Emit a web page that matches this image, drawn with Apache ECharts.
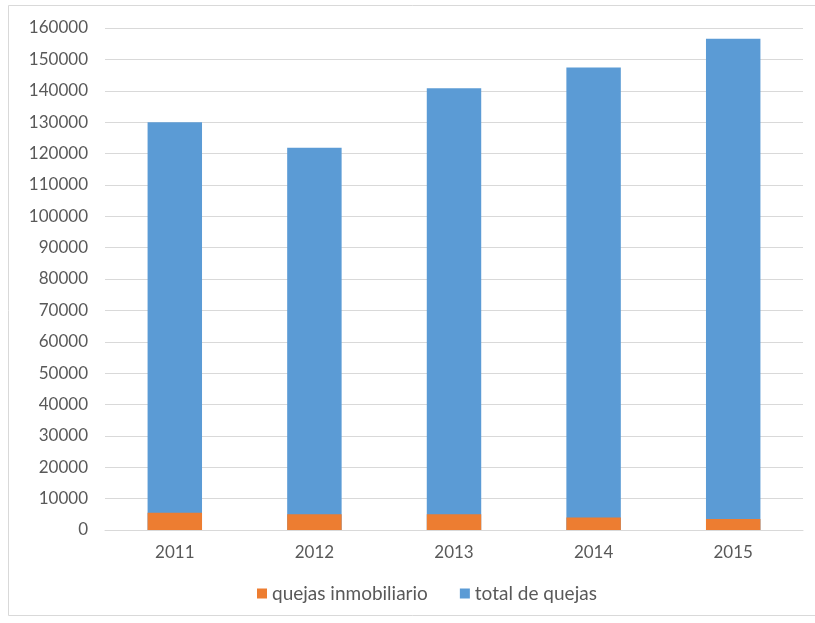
<!DOCTYPE html>
<html><head><meta charset="utf-8">
<script src="https://cdn.jsdelivr.net/npm/echarts@6/dist/echarts.min.js"></script>
<style>html,body{margin:0;padding:0;background:#fff}#c{width:815px;height:623px}</style>
</head><body><div id="c"></div>
<script>
const years = ['2011','2012','2013','2014','2015'];
const quejasInmobiliario = [5500, 5000, 5000, 4000, 3500];
const totalQuejas = [130000, 121800, 140800, 147400, 156600];
const yTicks = {min: 0, max: 160000, interval: 10000};

const chart = echarts.init(document.getElementById('c'));
chart.setOption({
  animation: false,
  backgroundColor: '#fff',
  textStyle: {fontFamily: 'Lato'},
  graphic: [{type: 'rect', shape: {x: 8.5, y: 5.5, width: 830, height: 610}, style: {fill: 'none', stroke: '#d9d9d9', lineWidth: 1}, silent: true}],
  grid: {left: 105, right: 12, top: 28, bottom: 93},
  legend: {
    data: ['quejas inmobiliario', 'total de quejas'],
    bottom: 15, left: 252,
    itemWidth: 10, itemHeight: 10, itemGap: 32, itemTextGap: 6,
    icon: 'rect',
    textStyle: {color: '#595959', fontSize: 19, fontFamily: 'Lato'}
  },
  xAxis: {
    type: 'category', data: years,
    axisLine: {lineStyle: {color: '#d9d9d9'}},
    axisTick: {show: false},
    axisLabel: {color: '#595959', fontSize: 17, margin: 14}
  },
  yAxis: {
    type: 'value', min: yTicks.min, max: yTicks.max, interval: yTicks.interval,
    axisLine: {show: false}, axisTick: {show: false},
    splitLine: {lineStyle: {color: '#d9d9d9'}},
    axisLabel: {color: '#595959', fontSize: 17, margin: 17, formatter: v => String(v)}
  },
  series: [
    {name: 'total de quejas', type: 'bar', data: totalQuejas, barWidth: '39%', barGap: '-100%', itemStyle: {color: '#5B9BD5'}, z: 2},
    {name: 'quejas inmobiliario', type: 'bar', data: quejasInmobiliario, barWidth: '39%', barGap: '-100%', itemStyle: {color: '#ED7D31'}, z: 3}
  ]
});
</script></body></html>
